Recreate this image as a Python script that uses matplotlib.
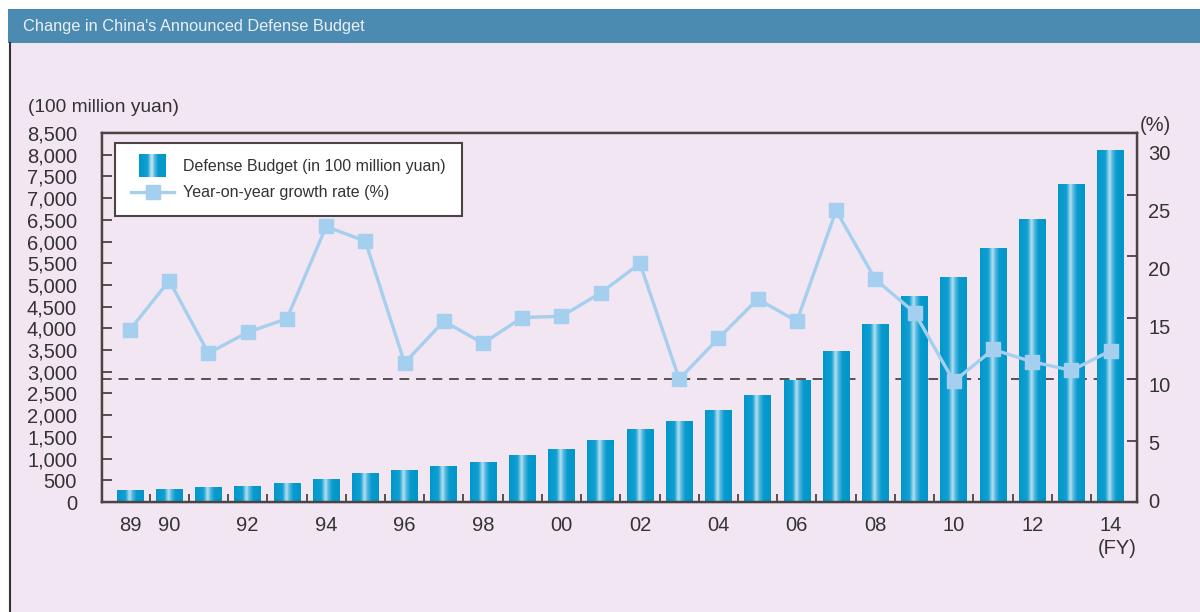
import matplotlib
matplotlib.use("Agg")
import matplotlib.pyplot as plt
import numpy as np
from matplotlib.colors import LinearSegmentedColormap
from matplotlib.patches import Rectangle
from matplotlib.lines import Line2D
from matplotlib.legend_handler import HandlerBase

plt.rcParams["font.family"] = ["Liberation Sans", "DejaVu Sans"]

# Data
years = [str(y)[-2:] for y in range(1989, 2015)]
budget = [269, 306, 345, 375, 444, 521, 659, 728, 828, 927, 1073, 1211, 1425,
          1693, 1877, 2115, 2467, 2820, 3478, 4107, 4736, 5188, 5847, 6513,
          7318, 8115]
growth = [14.0, 18.0, 12.1, 13.8, 14.9, 22.4, 21.2, 11.3, 14.7, 12.9, 15.0,
          15.1, 17.0, 19.4, 10.0, 13.3, 16.5, 14.7, 23.7, 18.1, 15.4, 9.8,
          12.4, 11.4, 10.7, 12.3]
shown_labels = ["89", "90", "92", "94", "96", "98", "00", "02", "04", "06",
                "08", "10", "12", "14"]
left_ticks = list(range(0, 8501, 500))
right_ticks = list(range(0, 31, 5))

BG = "#f2e6f2"
TXT = "#333333"
SPINE = "#4a4444"
LINE_C = "#a5cfee"
FS = 14.5

bar_cmap = LinearSegmentedColormap.from_list(
    "bar",
    [(0.0, "#0097cb"), (0.32, "#12a0d2"), (0.47, "#bde2f2"),
     (0.56, "#5cbbe2"), (0.72, "#079acd"), (1.0, "#0097cb")])

fig = plt.figure(figsize=(12, 6.12), dpi=100, facecolor="white")

# panel background, title bar and left border
fig.add_artist(Rectangle((9 / 1200, 0), 1, (612 - 43) / 612,
                         transform=fig.transFigure, facecolor=BG,
                         edgecolor="none", zorder=0))
fig.add_artist(Rectangle((8 / 1200, (612 - 43) / 612), 1, 34 / 612,
                         transform=fig.transFigure, facecolor="#4b8ab1",
                         edgecolor="none", zorder=0))
fig.add_artist(Line2D([9.5 / 1200, 9.5 / 1200], [0, (612 - 43) / 612],
                      transform=fig.transFigure, color="#333333", lw=1.5))
fig.text(23 / 1200, (612 - 27) / 612, "Change in China's Announced Defense Budget",
         color="#eaf0f6", fontsize=11.8, va="center", ha="left")

ax = fig.add_axes([102 / 1200, (612 - 502) / 612, 1035 / 1200, 369 / 612])
ax.set_facecolor(BG)
ax.set_zorder(2)

x = np.arange(len(years))
bars = ax.bar(x, budget, width=0.68, color="#0099cc", zorder=2)

gradient = np.linspace(0, 1, 256).reshape(1, -1)
for patch in bars:
    bx, bw, bh = patch.get_x(), patch.get_width(), patch.get_height()
    im = ax.imshow(gradient, cmap=bar_cmap, aspect="auto", zorder=2.1,
                   extent=[bx, bx + bw, 0, bh], interpolation="bicubic")
    im.set_clip_path(patch)

# 10% reference line, drawn behind the bars
ax.axhline(10 * 8500 / 30, color="#555050", lw=1.4, ls=(0, (5, 3.5)), zorder=1)

# right axis labels sit slightly lower than the tick marks, as in the original
ax2 = ax.twinx()
ax2.set_zorder(1)
ax2.set_ylim(-0.09, 31.7)
ax2.set_yticks(right_ticks)
ax2.tick_params(axis="y", length=0, labelsize=FS, labelcolor=TXT, pad=8)

ax3 = ax.twinx()
ax3.set_zorder(3)
ax3.plot(x, growth, color=LINE_C, lw=2.4, marker="s", markersize=10,
         markerfacecolor=LINE_C, markeredgecolor=LINE_C, zorder=3)
ax3.set_ylim(0, 30)
ax3.set_yticks(right_ticks)
ax3.tick_params(axis="y", direction="in", length=7, width=1.3, color=SPINE,
                labelright=False)

ax.set_xlim(-0.713, 25.67)
ax.set_ylim(0, 8500)

ax.set_yticks(left_ticks)
ax.set_yticklabels([f"{v:,}" for v in left_ticks])
ax.tick_params(axis="y", direction="in", length=7, width=1.3, color=SPINE,
               labelsize=FS, labelcolor=TXT, pad=18)

pos = [years.index(s) for s in shown_labels]
ax.set_xticks(pos)
ax.set_xticklabels(shown_labels)
ax.tick_params(axis="x", length=0, labelsize=FS, labelcolor=TXT, pad=10)
ax.set_xticks(x[:-1] + 0.5, minor=True)
ax.tick_params(axis="x", which="minor", direction="in", length=6, width=1.3,
               color=SPINE)

for a in (ax, ax2, ax3):
    for s in a.spines.values():
        s.set_color(SPINE)
        s.set_linewidth(1.6)

fig.text(28 / 1200, (612 - 107) / 612, "(100 million yuan)", fontsize=13.8,
         color=TXT, va="center", ha="left")
fig.text(1140 / 1200, (612 - 125) / 612, "(%)", fontsize=FS, color=TXT,
         va="center", ha="left")
fig.text(1117 / 1200, (612 - 549) / 612, "(FY)", fontsize=FS, color=TXT,
         va="center", ha="center")


class GradientHandler(HandlerBase):
    def create_artists(self, legend, orig_handle, xdescent, ydescent,
                       width, height, fontsize, trans):
        w = 19
        h = height * 2.0
        x0 = (width - w) / 2 - xdescent
        y0 = (height - h) / 2 - ydescent
        n = 24
        arts = []
        for i in range(n):
            arts.append(Rectangle((x0 + w * i / n, y0), w / n + 0.3, h,
                                  facecolor=bar_cmap((i + 0.5) / n),
                                  edgecolor="none", transform=trans))
        return arts


bar_proxy = Rectangle((0, 0), 1, 1)
line_proxy = Line2D([], [], color=LINE_C, lw=2.4, marker="s", markersize=10)
leg = ax3.legend([bar_proxy, line_proxy],
                 ["Defense Budget (in 100 million yuan)",
                  "Year-on-year growth rate (%)"],
                 handler_map={Rectangle: GradientHandler()},
                 loc="upper left", bbox_to_anchor=(0.0126, 0.973),
                 borderaxespad=0, fancybox=False, framealpha=1,
                 edgecolor=SPINE, fontsize=11.5, handlelength=2.7,
                 handletextpad=0.55, labelspacing=0.7, borderpad=1.0)
leg.get_frame().set_linewidth(1.5)
for t in leg.get_texts():
    t.set_color(TXT)

fig.savefig("out.png", dpi=100, facecolor=fig.get_facecolor())
